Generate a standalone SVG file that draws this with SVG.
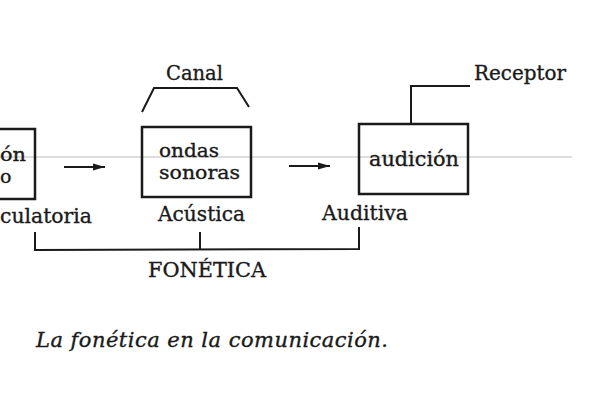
<svg xmlns="http://www.w3.org/2000/svg" width="600" height="400" viewBox="0 0 600 400">
<style>
.t{font-family:"DejaVu Serif","Liberation Serif",serif;font-size:20px;fill:#1a1a1a;stroke:#1a1a1a;stroke-width:0.35}
.s{font-size:19px}
.cap{font-size:21px;font-style:italic}
.box{fill:none;stroke:#1a1a1a;stroke-width:2.5}
.ln{fill:none;stroke:#1a1a1a;stroke-width:2}
</style>
<defs>
<marker id="ah" markerWidth="12" markerHeight="8" refX="12" refY="4" orient="auto" markerUnits="userSpaceOnUse">
<path d="M0,0.5 L12,4 L0,7.5 Z" fill="#1a1a1a"/>
</marker>
</defs>
<rect width="600" height="400" fill="#fff"/>
<line x1="0" y1="157" x2="572" y2="157" stroke="#bbb" stroke-width="1"/>
<g id="node-articulacion">
<rect class="box" x="-10" y="129" width="45" height="70"/>
<text class="t s" x="0" y="161" textLength="26" lengthAdjust="spacingAndGlyphs">ón</text>
<text class="t s" x="0" y="183">o</text>
<text class="t" x="0" y="223" textLength="92" lengthAdjust="spacingAndGlyphs">culatoria</text>
</g>
<g id="node-ondas">
<rect class="box" x="142" y="127" width="109" height="70"/>
<text class="t s" x="159" y="157" textLength="60" lengthAdjust="spacingAndGlyphs">ondas</text>
<text class="t s" x="159" y="179" textLength="81" lengthAdjust="spacingAndGlyphs">sonoras</text>
<text class="t" x="158" y="221" textLength="87" lengthAdjust="spacingAndGlyphs">Acústica</text>
</g>
<g id="node-canal">
<text class="t" x="166" y="80" textLength="57" lengthAdjust="spacingAndGlyphs">Canal</text>
</g>
<g id="node-audicion">
<rect class="box" x="359" y="124" width="109" height="70"/>
<text class="t" x="369" y="166" textLength="90" lengthAdjust="spacingAndGlyphs">audición</text>
<text class="t" x="322" y="220" textLength="86" lengthAdjust="spacingAndGlyphs">Auditiva</text>
</g>
<g id="node-receptor">
<text class="t" x="474" y="80" textLength="92" lengthAdjust="spacingAndGlyphs">Receptor</text>
</g>
<g id="node-fonetica">
<text class="t" x="148" y="277" textLength="118" lengthAdjust="spacingAndGlyphs">FONÉTICA</text>
</g>
<g id="caption">
<text class="t cap" x="36" y="347" textLength="352" lengthAdjust="spacing">La fonética  en  la  comunicación.</text>
</g>
<g id="connectors">
<line class="ln" x1="64" y1="167" x2="105" y2="167" marker-end="url(#ah)"/>
<line class="ln" x1="289" y1="166" x2="330" y2="166" marker-end="url(#ah)"/>
<polyline class="ln" points="142,112 154,88 237,88 249,107"/>
<polyline class="ln" points="411,123 411,86 470,86"/>
<polyline class="ln" points="35,232 35,250 359,249 359,227"/>
<line class="ln" x1="200" y1="232" x2="200" y2="249"/>
</g>
</svg>
